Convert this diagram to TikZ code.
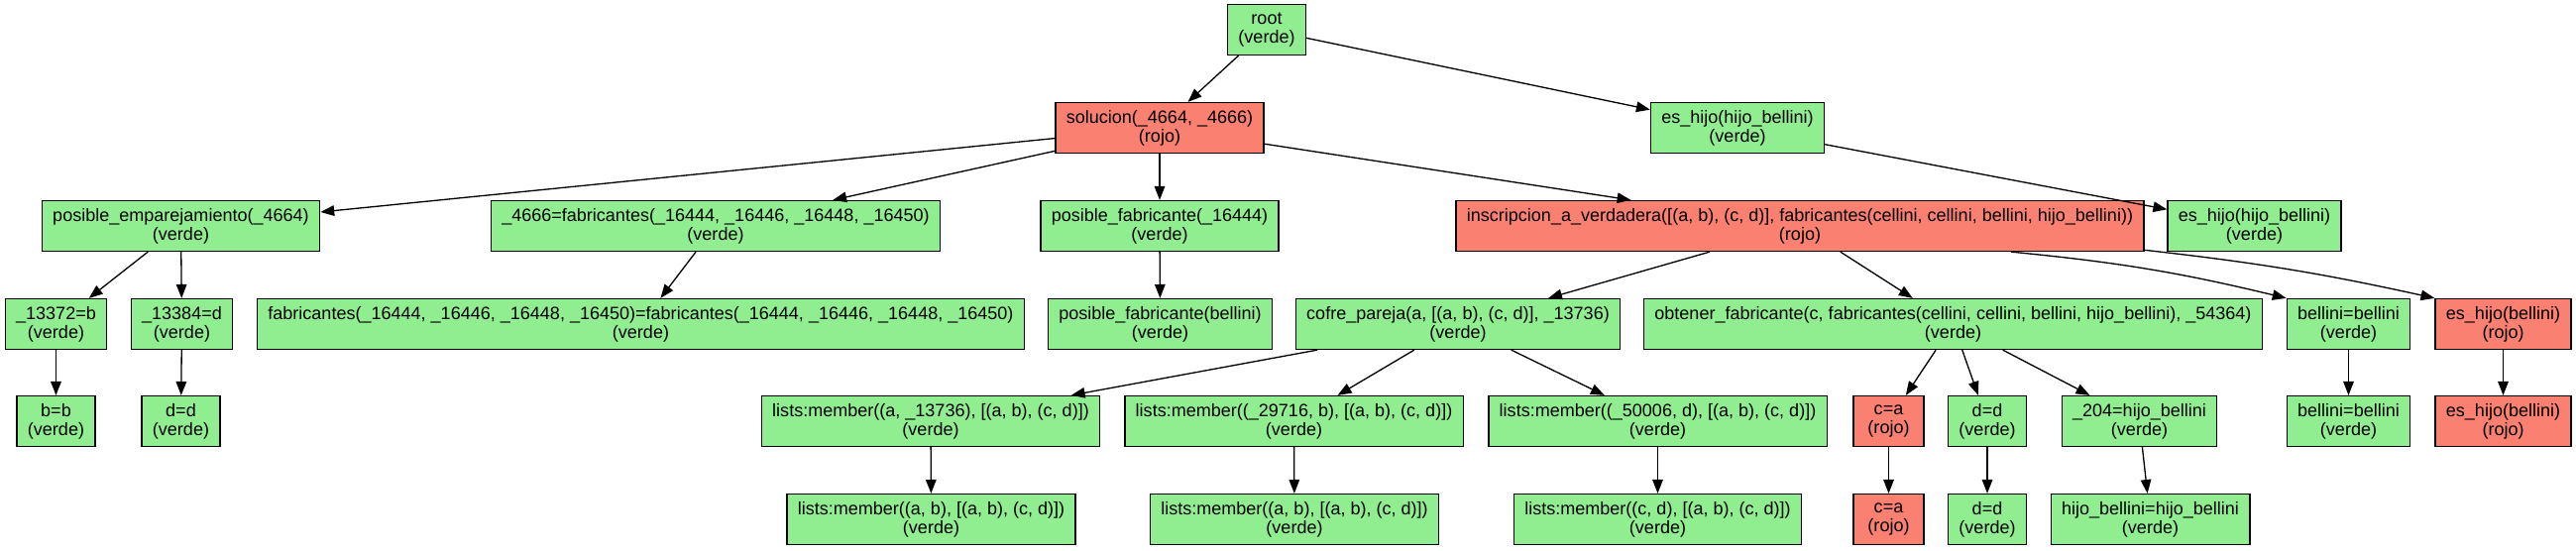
\documentclass[tikz,border=0pt]{standalone}
\usepackage{fontspec}
\setmainfont{Liberation Sans}
\usetikzlibrary{positioning, arrows.meta}
\definecolor{verdeclaro}{HTML}{90EE90}
\definecolor{salmon}{HTML}{FA8072}

\begin{document}
\begin{tikzpicture}[x=0.02cm, y=-0.02cm,
	caja/.style={draw, shape=rectangle, align=center, line width=0.75pt, inner xsep=6.2pt, inner ysep=2pt, minimum height=29pt, minimum width=40.3pt, font=\fontsize{10.26}{10.94}\selectfont},
	verde/.style={caja, fill=verdeclaro},
	rojo/.style={caja, fill=salmon},
	link/.style={-{Triangle[length=7.9pt, width=6pt]}, line width=0.75pt}]
\useasboundingbox (0, 0) rectangle (2599, 555);
% nivel 0 y 1
\node[verde] (root) at (1278, 30) {root\\(verde)};
\node[rojo] (sol) at (1170, 129) {solucion(\_4664, \_4666)\\(rojo)};
\node[verde] (hijoA) at (1753, 129) {es\_hijo(hijo\_bellini)\\(verde)};
% nivel 2
\node[verde] (emp) at (182.5, 228) {posible\_emparejamiento(\_4664)\\(verde)};
\node[verde] (fab) at (722, 228) {\_4666=fabricantes(\_16444, \_16446, \_16448, \_16450)\\(verde)};
\node[verde] (posfab) at (1170, 228) {posible\_fabricante(\_16444)\\(verde)};
\node[rojo] (inscr) at (1816, 228) {inscripcion\_a\_verdadera([(a, b), (c, d)], fabricantes(cellini, cellini, bellini, hijo\_bellini))\\(rojo)};
\node[verde] (hijoB) at (2274.5, 228) {es\_hijo(hijo\_bellini)\\(verde)};
% nivel 3
\node[verde] (u13372) at (56.5, 327) {\_13372=b\\(verde)};
\node[verde] (u13384) at (183.5, 327) {\_13384=d\\(verde)};
\node[verde] (fabeq) at (646.5, 327) {fabricantes(\_16444, \_16446, \_16448, \_16450)=fabricantes(\_16444, \_16446, \_16448, \_16450)\\(verde)};
\node[verde] (posbel) at (1170.5, 327) {posible\_fabricante(bellini)\\(verde)};
\node[verde] (cofre) at (1471, 327) {cofre\_pareja(a, [(a, b), (c, d)], \_13736)\\(verde)};
\node[verde] (obtener) at (1970.5, 327) {obtener\_fabricante(c, fabricantes(cellini, cellini, bellini, hijo\_bellini), \_54364)\\(verde)};
\node[verde] (belA) at (2369.5, 327) {bellini=bellini\\(verde)};
\node[rojo] (esbelA) at (2525.5, 327) {es\_hijo(bellini)\\(rojo)};
% nivel 4
\node[verde] (beqb) at (56.5, 425) {b=b\\(verde)};
\node[verde] (deqd) at (182.5, 425) {d=d\\(verde)};
\node[verde] (memA) at (939, 425) {lists:member((a, \_13736), [(a, b), (c, d)])\\(verde)};
\node[verde] (memB) at (1305.5, 425) {lists:member((\_29716, b), [(a, b), (c, d)])\\(verde)};
\node[verde] (memC) at (1672.5, 425) {lists:member((\_50006, d), [(a, b), (c, d)])\\(verde)};
\node[rojo] (caA) at (1905.5, 425) {c=a\\(rojo)};
\node[verde] (ddA) at (2005, 425) {d=d\\(verde)};
\node[verde] (u204) at (2158.5, 425) {\_204=hijo\_bellini\\(verde)};
\node[verde] (belB) at (2369.5, 425) {bellini=bellini\\(verde)};
\node[rojo] (esbelB) at (2525.5, 425) {es\_hijo(bellini)\\(rojo)};
% nivel 5
\node[verde] (memA2) at (939.5, 524) {lists:member((a, b), [(a, b), (c, d)])\\(verde)};
\node[verde] (memB2) at (1306, 524) {lists:member((a, b), [(a, b), (c, d)])\\(verde)};
\node[verde] (memC2) at (1672.5, 524) {lists:member((c, d), [(a, b), (c, d)])\\(verde)};
\node[rojo] (caB) at (1905.5, 524) {c=a\\(rojo)};
\node[verde] (ddB) at (2005, 524) {d=d\\(verde)};
\node[verde] (hijobel) at (2169.5, 524) {hijo\_bellini=hijo\_bellini\\(verde)};
% aristas
\foreach \a/\b in {root/sol, root/hijoA, sol/emp, sol/fab, sol/posfab, sol/inscr, hijoA/hijoB,
	emp/u13372, emp/u13384, fab/fabeq, posfab/posbel, inscr/cofre, inscr/obtener,
	u13372/beqb, u13384/deqd, cofre/memA, cofre/memB, cofre/memC, obtener/caA, obtener/ddA, obtener/u204,
	belA/belB, esbelA/esbelB, memA/memA2, memB/memB2, memC/memC2, caA/caB, ddA/ddB, u204/hijobel}
	\draw[link] (\a) -- (\b);
\draw[link] (inscr.-7) to[bend left=4] (belA.north west);
\draw[link] (inscr.-4.8) to[bend left=3] (esbelA.north west);
\end{tikzpicture}
\end{document}
